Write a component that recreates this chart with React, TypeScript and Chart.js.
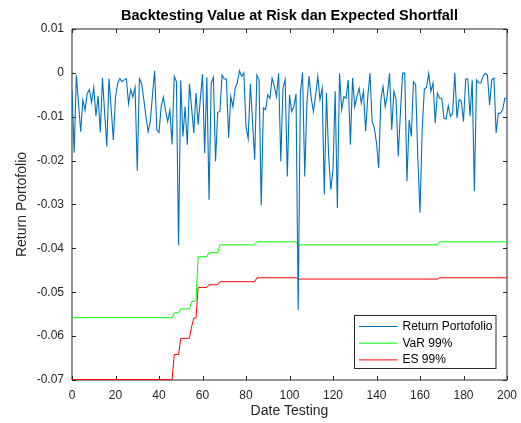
import React, { useEffect, useRef } from "react";
import { Chart, registerables } from "chart.js";

Chart.register(...registerables);

const chartTitle = "Backtesting Value at Risk dan Expected Shortfall";
const xAxisTitle = "Date Testing";
const yAxisTitle = "Return Portofolio";
const seriesLabels = ["Return Portofolio", "VaR 99%", "ES 99%"];
const seriesColors = ["#0072BD", "#00FF00", "#FF0000"];

const xTicks = [0, 20, 40, 60, 80, 100, 120, 140, 160, 180, 200];
const yTicks = [0.01, 0, -0.01, -0.02, -0.03, -0.04, -0.05, -0.06, -0.07];

// Return portofolio, day 0..200
const returnPortofolio = [
  -0.0039, -0.0182, -0.0005, -0.0070, -0.0134, -0.0062, -0.0085, -0.0047, -0.0038, -0.0068,
  -0.0033, -0.0098, -0.0053, -0.0136, -0.0011, -0.0090, -0.0168, -0.0013, -0.0080, -0.0153,
  -0.0055, -0.0024, -0.0013, -0.0020, -0.0016, -0.0013, -0.0070, -0.0038, -0.0055, -0.0033,
  -0.0223, -0.0013, -0.0024, -0.0060, -0.0100, -0.0134, -0.0111, -0.0051, 0.0005, -0.0130,
  -0.0136, -0.0077, -0.0055, -0.0085, -0.0111, -0.0085, -0.0163, -0.0008, -0.0020, -0.0393,
  -0.0017, -0.0145, -0.0077, -0.0164, -0.0025, -0.0080, -0.0137, -0.0046, -0.0118, -0.0060,
  -0.0003, -0.0183, -0.0010, -0.0289, -0.0023, -0.0010, -0.0202, -0.0090, -0.0088, -0.0005,
  -0.0014, -0.0014, -0.0148, -0.0054, -0.0077, -0.0035, -0.0023, 0.0005, -0.0008, 0.0000,
  -0.0122, -0.0150, -0.0025, -0.0110, -0.0198, -0.0005, -0.0016, -0.0302, -0.0080, -0.0084,
  -0.0050, -0.0058, -0.0012, -0.0030, -0.0054, -0.0001, -0.0202, -0.0035, -0.0015, -0.0236,
  -0.0050, -0.0088, -0.0077, -0.0048, -0.0540, -0.0046, 0.0001, -0.0236, -0.0069, -0.0007,
  -0.0058, -0.0088, -0.0052, -0.0008, -0.0061, -0.0035, -0.0277, -0.0046, -0.0190, -0.0266,
  -0.0220, -0.0042, -0.0308, -0.0001, -0.0084, -0.0054, -0.0058, -0.0016, -0.0164, -0.0012,
  -0.0077, -0.0054, -0.0035, -0.0069, -0.0042, -0.0133, -0.0054, -0.0001, -0.0111, -0.0126,
  -0.0160, -0.0217, -0.0061, -0.0031, -0.0077, -0.0050, -0.0001, -0.0130, -0.0042, -0.0061,
  -0.0190, -0.0090, -0.0001, 0.0000, -0.0247, -0.0107, -0.0145, -0.0020, -0.0027, -0.0194,
  -0.0319, -0.0130, -0.0037, -0.0033, -0.0001, -0.0042, -0.0023, -0.0114, -0.0046, -0.0058,
  -0.0058, -0.0103, -0.0105, -0.0075, -0.0099, -0.0092, 0.0000, -0.0103, -0.0061, -0.0065,
  -0.0111, -0.0014, -0.0014, -0.0099, -0.0016, -0.0270, -0.0016, -0.0023, -0.0023, -0.0008,
  -0.0001, -0.0005, -0.0073, -0.0016, -0.0012, -0.0137, -0.0092, -0.0092, -0.0084, -0.0058,
  -0.0058,
];

// VaR 99% (values change only at these days)
const varDays = [0, 46, 47, 49, 50, 54, 55, 56, 57, 58, 62, 63, 67, 68, 84, 85, 103, 104, 168, 169, 200];
const varValues = [
  -0.0558, -0.0558, -0.0547, -0.0547, -0.0538, -0.0538, -0.0521, -0.0521, -0.0519, -0.0419,
  -0.0419, -0.0410, -0.0410, -0.0392, -0.0392, -0.0385, -0.0385, -0.0392, -0.0392, -0.0385,
  -0.0385,
];

// ES 99%
const esDays = [0, 46, 47, 49, 50, 54, 55, 56, 57, 58, 62, 63, 67, 68, 84, 85, 103, 104, 168, 169, 200];
const esValues = [
  -0.0699, -0.0699, -0.0642, -0.0642, -0.0605, -0.0605, -0.0578, -0.0559, -0.0559, -0.0489,
  -0.0489, -0.0483, -0.0483, -0.0476, -0.0476, -0.0467, -0.0467, -0.0470, -0.0470, -0.0467,
  -0.0467,
];

const FONT = "'Liberation Sans', Arial, Helvetica, sans-serif";
const AXIS_COLOR = "#262626";

function fmtTick(v: number): string {
  const r = Math.round(v * 100) / 100;
  if (r === 0) return "0";
  return String(r);
}

const framePlugin = {
  id: "matlabFrame",
  beforeDatasetsDraw(chart: any) {
    const { ctx, chartArea } = chart;
    const { left, right, top, bottom } = chartArea;
    const xs = chart.scales.x;
    const ys = chart.scales.y;
    ctx.save();
    ctx.strokeStyle = AXIS_COLOR;
    ctx.lineWidth = 1;
    ctx.beginPath();
    ctx.rect(left, top, right - left, bottom - top);
    ctx.stroke();
    const tl = 4;
    ctx.beginPath();
    for (const v of xTicks) {
      const px = Math.round(xs.getPixelForValue(v)) + 0.5;
      ctx.moveTo(px, bottom);
      ctx.lineTo(px, bottom - tl);
      ctx.moveTo(px, top);
      ctx.lineTo(px, top + tl);
    }
    for (const v of yTicks) {
      const py = Math.round(ys.getPixelForValue(v)) + 0.5;
      ctx.moveTo(left, py);
      ctx.lineTo(left + tl, py);
      ctx.moveTo(right, py);
      ctx.lineTo(right - tl, py);
    }
    ctx.stroke();
    ctx.restore();
  },
  afterDraw(chart: any) {
    const { ctx, chartArea } = chart;
    const { left, right, top, bottom } = chartArea;
    const cx = (left + right) / 2;
    ctx.save();
    // title
    ctx.fillStyle = "#000000";
    ctx.font = `bold 14.5px ${FONT}`;
    ctx.textAlign = "center";
    ctx.textBaseline = "middle";
    ctx.fillText(chartTitle, cx, 15.5);
    // axis titles
    ctx.fillStyle = AXIS_COLOR;
    ctx.font = `14px ${FONT}`;
    ctx.fillText(xAxisTitle, cx, 411);
    ctx.save();
    ctx.translate(22, (top + bottom) / 2);
    ctx.rotate(-Math.PI / 2);
    ctx.fillText(yAxisTitle, 0, 0);
    ctx.restore();
    // legend
    const bw = 141.5;
    const bh = 53;
    const bx = Math.round(right - 12 - bw) + 0.5;
    const by = Math.round(bottom - 12.5 - bh) + 0.5;
    ctx.fillStyle = "#ffffff";
    ctx.fillRect(bx, by, bw, bh);
    ctx.strokeStyle = AXIS_COLOR;
    ctx.lineWidth = 1;
    ctx.strokeRect(bx, by, bw, bh);
    ctx.font = `12px ${FONT}`;
    ctx.textAlign = "left";
    ctx.textBaseline = "middle";
    chart.data.datasets.forEach((ds: any, i: number) => {
      const ry = by + 11 + i * 16.7;
      ctx.strokeStyle = ds.borderColor;
      ctx.lineWidth = 1;
      ctx.beginPath();
      ctx.moveTo(bx + 4.5, ry);
      ctx.lineTo(bx + 43, ry);
      ctx.stroke();
      ctx.fillStyle = "#000000";
      ctx.fillText(ds.label, bx + 48, ry);
    });
    ctx.restore();
  },
};

export default function App() {
  const ref = useRef<HTMLCanvasElement | null>(null);

  useEffect(() => {
    document.body.style.margin = "0";
    const canvas = ref.current;
    if (!canvas) return;
    const returnData = returnPortofolio.map((v, i) => ({ x: i, y: v }));
    const varData = varDays.map((d, i) => ({ x: d, y: varValues[i] }));
    const esData = esDays.map((d, i) => ({ x: d, y: esValues[i] }));
    const chart = new Chart(canvas, {
      type: "line",
      data: {
        datasets: [
          { label: seriesLabels[0], data: returnData, borderColor: seriesColors[0], borderWidth: 1.1 },
          { label: seriesLabels[1], data: varData, borderColor: seriesColors[1], borderWidth: 1 },
          { label: seriesLabels[2], data: esData, borderColor: seriesColors[2], borderWidth: 1 },
        ],
      },
      options: {
        animation: false,
        responsive: false,
        maintainAspectRatio: false,
        parsing: false,
        layout: { padding: { top: 29, right: 14, left: 0, bottom: 0 } },
        elements: { point: { radius: 0 }, line: { tension: 0, fill: false } },
        plugins: {
          legend: { display: false },
          title: { display: false },
          tooltip: { enabled: false },
        },
        scales: {
          x: {
            type: "linear",
            min: 0,
            max: 200,
            afterBuildTicks: (s: any) => {
              s.ticks = xTicks.map((v) => ({ value: v }));
            },
            afterFit: (s: any) => {
              s.height = 43;
              s.paddingLeft = 0;
              s.paddingRight = 0;
            },
            grid: { display: false, drawTicks: false },
            border: { display: false },
            ticks: {
              padding: 8,
              color: AXIS_COLOR,
              font: { family: FONT, size: 12 },
              maxRotation: 0,
              autoSkip: false,
              callback: (v: any) => String(v),
            },
          },
          y: {
            type: "linear",
            min: -0.07,
            max: 0.01,
            afterBuildTicks: (s: any) => {
              s.ticks = yTicks.map((v) => ({ value: v }));
            },
            afterFit: (s: any) => {
              s.width = 72;
              s.paddingTop = 0;
              s.paddingBottom = 0;
            },
            grid: { display: false, drawTicks: false },
            border: { display: false },
            ticks: {
              padding: 8,
              color: AXIS_COLOR,
              font: { family: FONT, size: 12 },
              autoSkip: false,
              callback: (v: any) => fmtTick(Number(v)),
            },
          },
        },
      },
      plugins: [framePlugin],
    } as any);
    return () => chart.destroy();
  }, []);

  return (
    <div style={{ position: "absolute", left: 0, top: 0, width: 521, height: 423, background: "#fff" }}>
      <canvas ref={ref} width={521} height={423} style={{ display: "block" }} />
    </div>
  );
}
